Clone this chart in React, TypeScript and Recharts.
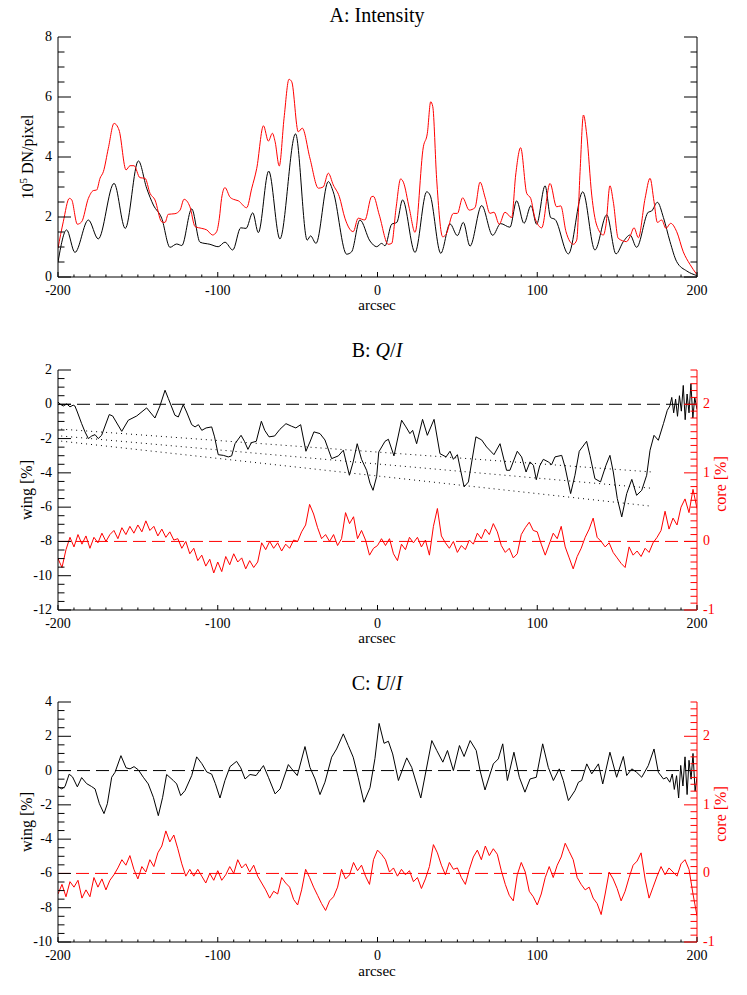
import React from 'react';
import { LineChart, Line, XAxis, YAxis, ReferenceLine } from 'recharts';

const FONT = '"Liberation Serif", "DejaVu Serif", serif';
const RED = '#ff0000';

// ---------- tick positions ----------
const arcTicks = Array.from({ length: 41 }, (_, i) => -200 + i * 10);
const intTicks = Array.from({ length: 17 }, (_, i) => i * 0.5);
const qWingTicks = Array.from({ length: 29 }, (_, i) => -12 + i * 0.5);
const uWingTicks = Array.from({ length: 29 }, (_, i) => -10 + i * 0.5);
const coreTicks = Array.from({ length: 36 }, (_, i) => Math.round((-1 + i * 0.1) * 10) / 10);

// ---------- A: intensity (arcsec, 1e5 DN/pixel) ----------
const intBlack: number[][] = [
  [-200, 0.5], [-194.6, 1.57], [-189.4, 0.82], [-181, 1.9], [-174.8, 1.27], [-164.9, 3.12], [-157.9, 1.62],
  [-149.7, 3.87], [-144.5, 2.96], [-140.3, 2.4], [-135.1, 1.96], [-129.9, 0.99], [-125.7, 1.1], [-122.5, 1.05],
  [-116.3, 2.27], [-111.1, 1.16], [-104.9, 1.09], [-99.7, 1.01], [-95.5, 1.16], [-90.6, 0.9], [-85.6, 1.64],
  [-82.3, 1.62], [-78.1, 2.14], [-74.6, 1.48], [-68.1, 3.53], [-61.1, 1.27], [-51.3, 4.77], [-44, 1.23],
  [-41.9, 1.37], [-38.5, 1.12], [-30.8, 3.18], [-27.7, 2.84], [-19.3, 0.76], [-16.2, 0.84], [-11, 1.9],
  [-4.7, 1.2], [-0.5, 1.01], [2.6, 1.12], [4.7, 1.04], [8.9, 1.76], [12.1, 1.82], [15.7, 2.57], [23.5, 0.82],
  [30.8, 2.84], [32.9, 2.73], [39.6, 0.79], [45.4, 1.77], [50, 1.38], [53.7, 1.82], [57.9, 1.03], [65.2, 2.38],
  [72.1, 1.39], [77.1, 1.78], [82.9, 1.66], [87.1, 2.54], [91.7, 1.79], [96.1, 2.38], [99.6, 1.76], [104.9, 3.04],
  [108.4, 1.98], [111.1, 1.92], [119.5, 0.77], [128.5, 2.84], [136.1, 0.9], [143.5, 2.07], [149.3, 0.77],
  [153.9, 1.18], [158.1, 1.4], [162.2, 0.99], [169.5, 2.16], [171.6, 2.2], [175.2, 2.49], [179, 1.98],
  [183.1, 1.18], [187.3, 0.51], [193.6, 0.2], [199.8, 0.05],
];
const intRed: number[][] = [
  [-200, 0.96], [-196.7, 1.84], [-192.9, 2.62], [-191.5, 2.58], [-187.9, 1.76], [-185.2, 1.84], [-181, 2.62],
  [-177.9, 2.88], [-175.8, 2.9], [-173.7, 3.29], [-171.6, 3.51], [-168.5, 4.29], [-164.9, 5.12], [-161.8, 4.9],
  [-157.4, 3.57], [-154.9, 3.71], [-152.4, 3.71], [-148.7, 3.31], [-145.5, 3.29], [-142.4, 2.79], [-139.3, 2.57],
  [-135.1, 1.84], [-133, 1.82], [-131, 2.09], [-126.8, 2.11], [-123.6, 2.23], [-121.1, 2.59], [-117.4, 2.34],
  [-114.2, 1.68], [-110, 1.62], [-106.9, 1.57], [-103.2, 1.4], [-100.7, 1.51], [-99, 1.96], [-97.6, 2.62],
  [-95.5, 2.98], [-92.3, 2.66], [-90.2, 2.59], [-87.1, 2.54], [-81.9, 2.31], [-78.7, 2.96], [-75.6, 3.62],
  [-71.4, 5.04], [-68.3, 4.53], [-65.8, 4.79], [-64.1, 4.51], [-61.5, 3.7], [-58.5, 5.29], [-55.4, 6.59],
  [-53.7, 6.51], [-49.6, 4.84], [-47.1, 4.96], [-42.3, 3.96], [-37, 2.96], [-34, 3.0], [-30.8, 3.46],
  [-27.7, 3.07], [-23.9, 2.68], [-20.4, 1.96], [-15.2, 1.51], [-12.1, 1.96], [-7.9, 1.9], [-3.7, 2.68],
  [-2.6, 2.69], [1.1, 2.07], [6.7, 1.09], [8.9, 1.12], [11.6, 2.29], [14.5, 3.27], [16.2, 3.16], [19.9, 2.29],
  [23.5, 1.49], [28.7, 4.34], [31.2, 4.79], [33.3, 5.84], [34.6, 5.68], [37, 3.29], [40.8, 1.34], [42.9, 1.42],
  [47.5, 2.12], [50, 2.12], [53.3, 2.64], [57.4, 2.23], [61, 2.31], [64.2, 3.16], [67.3, 2.66], [70.4, 2.12],
  [72.9, 2.16], [76.2, 1.76], [79.8, 2.16], [84, 1.98], [86.5, 3.4], [89.6, 4.31], [93.4, 2.79], [95.9, 2.62],
  [98.6, 1.96], [102.8, 1.64], [108, 3.12], [112.1, 2.34], [114.7, 2.37], [118, 1.51], [122.6, 1.09],
  [124.7, 1.23], [126.8, 3.51], [128.9, 5.4], [131, 4.73], [134.1, 2.73], [137.2, 1.73], [141.4, 1.4],
  [143, 1.73], [145.5, 3.04], [147.6, 2.51], [150.7, 1.29], [155.9, 1.18], [158, 1.34], [160.6, 1.64],
  [163.3, 1.31], [167.5, 2.62], [170.6, 3.29], [173.1, 2.51], [175.2, 1.82], [177.9, 1.9], [180.6, 1.62],
  [183.5, 1.79], [187.3, 1.51], [191.4, 0.84], [195.6, 0.42], [199.8, 0.09],
];

// ---------- B: Q/I ----------
const qWing: number[][] = [
  [-200, 0.13], [-198.5, 0.0], [-196.7, -0.1], [-194.5, 0.02], [-192.5, -0.15], [-190.5, -0.05], [-189.4, -0.1],
  [-187.9, -0.45], [-185.2, -1.13], [-183.1, -1.61], [-181, -2.0], [-178.9, -1.85], [-176.8, -1.77], [-174.8, -2.0],
  [-172.7, -1.81], [-167.9, -0.6], [-165.8, -0.68], [-160.1, -1.58], [-156, -0.93], [-150.7, -0.68], [-144.5, -0.21],
  [-142.4, -0.45], [-139.3, -0.8], [-136.2, -0.1], [-133, 0.82], [-130.9, 0.33], [-126.8, -0.64], [-124.7, -0.74],
  [-121.6, -0.02], [-119.5, -0.45], [-116.3, -1.19], [-114.2, -1.32], [-112.1, -1.19], [-110, -1.52],
  [-107.3, -1.38], [-103.8, -1.32], [-102, -1.9], [-99.7, -2.94], [-96.5, -2.98], [-93.4, -3.07], [-91.3, -3.01],
  [-89.2, -2.3], [-85.4, -1.81], [-83.3, -2.16], [-81.1, -2.63], [-79, -2.24], [-75.9, -2.16], [-72.7, -0.99],
  [-70.6, -1.52], [-67.9, -1.9], [-64.4, -1.85], [-61.1, -1.46], [-57.3, -1.13], [-53.8, -1.28], [-51.1, -1.38],
  [-48.1, -1.19], [-44.8, -2.74], [-42.3, -2.2], [-39.8, -1.61], [-36, -1.71], [-32.9, -2.08], [-28.7, -3.17],
  [-24.5, -3.01], [-21.4, -2.68], [-17.6, -4.14], [-15.2, -3.36], [-12.7, -2.3], [-10, -3.21], [-6.8, -3.85],
  [-4.7, -4.6], [-2.8, -5.02], [-0.5, -4.2], [0.8, -2.78], [4.7, -2.16], [6.8, -2.04], [10.3, -3.01],
  [15.1, -0.93], [17.8, -1.32], [20.3, -1.71], [22, -1.52], [24.5, -2.3], [28.2, -0.88], [31.2, -1.81],
  [35.4, -0.88], [39.1, -2.88], [42.9, -3.07], [45.4, -2.74], [47.5, -3.21], [50, -2.94], [54.2, -4.82],
  [56.9, -4.53], [61.6, -1.9], [65.2, -2.08], [68.3, -2.49], [72.9, -2.94], [76.7, -2.3], [80.8, -3.85],
  [82.9, -3.85], [87.5, -2.74], [90.2, -3.07], [93, -3.95], [95.5, -3.36], [97.6, -3.56], [99.4, -4.4],
  [101.5, -3.6], [103.8, -3.21], [106.9, -3.36], [109, -3.52], [111.1, -3.07], [115.3, -2.98], [117.4, -3.66],
  [120.9, -5.21], [123.6, -4.14], [126.3, -2.74], [130.9, -2.16], [133, -2.98], [136.1, -4.34], [139.6, -4.53],
  [143, -3.56], [145.5, -2.98], [147.6, -3.95], [150.1, -5.5], [152.9, -6.57], [156, -5.21], [159.2, -4.38],
  [162.2, -5.31], [165.4, -5.02], [168.5, -4.14], [170.6, -2.68], [173.1, -1.81], [175.8, -2.1], [179, -1.13],
  [181.4, -0.35], [183, -0.1], [184.2, 0.4], [185.4, -0.5], [186.6, 0.3], [187.8, -0.7], [189, 0.5],
  [190.2, -0.4], [191.4, 1.1], [192.6, -0.9], [193.8, 0.6], [195, -0.5], [196.2, 1.2], [197.4, -0.8],
  [198.6, 0.4], [200, -0.3],
];
// dotted fit lines, [x, wing %] end points
const qFitA: number[][] = [[-198, -1.45], [172, -3.95]];
const qFitB: number[][] = [[-198, -1.85], [172, -4.9]];
const qFitC: number[][] = [[-198, -2.15], [172, -5.95]];

// core series sampled every 2.5 arcsec
const coreX = Array.from({ length: 161 }, (_, i) => -200 + i * 2.5);
const qCore = [
  -0.25, -0.38, -0.12, 0.06, -0.08, 0.1, -0.04, 0.08, -0.1, 0.06,
  -0.02, 0.12, 0.0, 0.1, 0.16, 0.04, 0.2, 0.1, 0.22, 0.12,
  0.24, 0.14, 0.3, 0.16, 0.22, 0.08, 0.18, 0.06, 0.14, 0.02,
  0.04, -0.1, 0.0, -0.18, -0.1, -0.28, -0.2, -0.36, -0.26, -0.46,
  -0.3, -0.44, -0.22, -0.34, -0.18, -0.3, -0.24, -0.4, -0.28, -0.38,
  -0.3, -0.02, -0.12, 0.0, -0.1, -0.02, -0.14, -0.04, -0.1, 0.02,
  0.0, 0.14, 0.24, 0.54, 0.4, 0.2, 0.04, 0.1, 0.0, 0.1,
  -0.06, 0.04, 0.42, 0.26, 0.36, 0.04, 0.16, 0.02, -0.2, -0.1,
  -0.06, 0.04, -0.06, 0.04, -0.18, -0.28, -0.04, -0.12, 0.06, -0.02,
  0.06, -0.08, 0.02, -0.2, 0.22, 0.48, 0.08, -0.02, -0.1, 0.0,
  -0.16, -0.06, -0.12, 0.02, -0.04, 0.12, 0.04, 0.18, 0.1, 0.26,
  0.14, -0.06, -0.16, -0.1, -0.24, -0.18, 0.1, 0.2, 0.28, 0.16,
  0.14, -0.04, -0.2, -0.04, 0.12, 0.04, 0.22, -0.08, -0.24, -0.4,
  -0.22, -0.1, 0.06, 0.18, 0.34, 0.06, 0.0, -0.08, -0.02, -0.16,
  -0.24, -0.32, -0.38, -0.08, -0.2, -0.14, -0.22, -0.1, -0.16, -0.02,
  0.06, 0.16, 0.44, 0.18, 0.34, 0.24, 0.5, 0.62, 0.42, 0.76, 0.48,
];

// ---------- C: U/I ----------
const uWing: number[][] = [
  [-200, -0.93], [-197.7, -1.07], [-195.6, -0.93], [-193, -0.21], [-190.9, -0.37], [-187.9, -0.95],
  [-185.2, -0.41], [-182.1, -0.76], [-179, -0.93], [-176.8, -1.07], [-174.1, -1.93], [-171.2, -2.51],
  [-169.1, -1.93], [-166.4, -0.39], [-164.3, -0.1], [-160.6, 0.87], [-157.4, 0.16], [-154.9, 0.1],
  [-152.4, 0.23], [-149.7, 0.04], [-146.6, -0.39], [-143.5, -0.78], [-140.3, -1.56], [-137.2, -2.63],
  [-134.5, -1.56], [-132, -0.23], [-127.8, -0.58], [-125.7, -0.78], [-123.2, -1.46], [-120.5, -1.17],
  [-116.3, -0.29], [-113.2, 0.8], [-110, 0.41], [-106.9, -0.08], [-103.8, -0.21], [-101.5, -0.76],
  [-98.6, -1.6], [-95.5, -0.58], [-92.3, 0.23], [-88.2, 0.54], [-85.6, 0.16], [-82.9, -0.49], [-79.8, -0.23],
  [-76, -0.29], [-71.4, 0.29], [-68.3, -0.39], [-64.1, -1.36], [-61, -1.07], [-55.8, 0.35], [-53.7, 0.1],
  [-50.2, -0.29], [-45.4, 1.4], [-42.3, 0.19], [-39.1, -0.49], [-36, -1.4], [-32.9, -0.68], [-28.7, 0.78],
  [-25.6, 1.26], [-21.4, 2.14], [-18.3, 1.46], [-15.2, 0.78], [-12.1, -0.39], [-8.5, -1.85], [-4.7, -1.0],
  [-1.6, 0.7], [1.0, 2.75], [4.1, 1.59], [6.8, 1.71], [9.5, 0.97], [13.1, -0.58], [18.3, 0.74], [21.4, 0.19],
  [27.1, -1.6], [34, 1.75], [37.1, 1.17], [40.9, 0.49], [43.8, 1.17], [47.5, 0.0], [51.3, 1.46], [54.2, 0.82],
  [58, 1.75], [61.8, 1.17], [64.2, 0.0], [67.3, -1.13], [72.5, 0.39], [75.6, 0.68], [78.4, 1.56], [81.3, -0.58],
  [85.4, 1.07], [88.8, -0.39], [92.3, -1.26], [95.5, -0.49], [99.4, -0.39], [103.4, 1.56], [106.9, 0.19],
  [110.1, -0.58], [113.8, 0.1], [116.3, -0.58], [119.5, -1.75], [123.6, -1.17], [125.8, -0.68], [127.8, -0.58],
  [131, 0.39], [134.1, -0.19], [138.3, 0.39], [141, -0.78], [145.5, 1.07], [149.7, -0.39], [153.9, 0.82],
  [156, -0.29], [159.2, 0.1], [162.2, -0.1], [165.4, -0.39], [169.5, 0.29], [173.1, 1.26], [175.8, -0.1],
  [179, -0.49], [181, -0.4], [183, -0.68], [184.5, -0.2], [185.8, -1.1], [187.2, -0.3], [188.5, -1.6],
  [189.8, 0.3], [191.2, -0.9], [192.5, 0.8], [193.8, -1.4], [195, 0.6], [196.3, -0.5], [197.5, 1.0],
  [198.8, -1.2], [200, -0.4],
];
const uCore = [
  -0.3, -0.16, -0.34, -0.12, -0.2, -0.1, -0.36, -0.24, -0.34, -0.06,
  -0.2, -0.08, -0.24, -0.1, -0.02, 0.08, 0.2, 0.12, 0.26, 0.06,
  -0.08, 0.1, 0.02, 0.2, 0.1, 0.3, 0.4, 0.62, 0.46, 0.56,
  0.36, 0.14, -0.04, 0.06, -0.04, 0.06, -0.04, -0.14, 0.0, -0.1,
  0.04, -0.1, -0.02, 0.1, 0.0, 0.2, 0.08, 0.14, 0.02, 0.12,
  -0.04, -0.14, -0.24, -0.36, -0.26, -0.3, -0.06, -0.14, -0.2, -0.38,
  -0.46, -0.24, 0.06, -0.06, -0.2, -0.32, -0.44, -0.54, -0.4, -0.34,
  -0.2, 0.06, -0.08, -0.02, 0.16, 0.04, 0.12, -0.04, -0.16, 0.2,
  0.34, 0.28, 0.2, 0.02, 0.08, -0.04, 0.06, -0.02, 0.04, -0.12,
  -0.06, -0.22, -0.08, 0.1, 0.42, 0.3, 0.12, -0.02, 0.16, 0.06,
  0.08, -0.06, -0.16, 0.06, 0.24, 0.34, 0.2, 0.4, 0.26, 0.36,
  0.28, 0.04, -0.16, -0.32, -0.4, -0.02, 0.16, 0.02, -0.26, -0.34,
  -0.46, -0.3, -0.06, 0.1, -0.06, 0.12, 0.24, 0.44, 0.32, 0.2,
  -0.06, -0.16, -0.24, -0.2, -0.36, -0.44, -0.6, -0.3, 0.02, -0.08,
  -0.22, -0.4, -0.26, -0.06, 0.12, 0.18, 0.3, -0.08, -0.36, -0.2,
  -0.04, 0.1, -0.02, 0.08, 0.02, -0.04, 0.14, 0.2, 0.06, -0.3, -0.62,
];

const rows = (pts: number[][]) => pts.map(([x, v]) => ({ x, v }));
const coreRows = (vals: number[]) => vals.map((v, i) => ({ x: coreX[i], v }));

// ---------- ticks (IDL style, pointing inward) ----------
const fmt = (v: number) => String(Math.round(v));

const makeTick = (side: string, step: number, len: number, color: string, labels: boolean) => (props: any) => {
  const { x, y, payload } = props;
  const v = payload.value;
  const major = Math.abs(v / step - Math.round(v / step)) < 1e-6;
  const l = major ? len : len / 2;
  const txt = major && labels;
  const t = { fill: color, fontSize: 14, fontFamily: FONT };
  if (side === 'bottom') {
    return (
      <g>
        <line x1={x} x2={x} y1={y} y2={y - l} stroke={color} />
        {txt && <text x={x} y={y + 18} textAnchor="middle" {...t}>{fmt(v)}</text>}
      </g>
    );
  }
  if (side === 'top') {
    return <line x1={x} x2={x} y1={y} y2={y + l} stroke={color} />;
  }
  if (side === 'left') {
    return (
      <g>
        <line x1={x} x2={x + l} y1={y} y2={y} stroke={color} />
        {txt && <text x={x - 6} y={y + 4} textAnchor="end" {...t}>{fmt(v)}</text>}
      </g>
    );
  }
  return (
    <g>
      <line x1={x} x2={x - l} y1={y} y2={y} stroke={color} />
      {txt && <text x={x + 6} y={y + 4} textAnchor="start" {...t}>{fmt(v)}</text>}
    </g>
  );
};

const bottomTick = makeTick('bottom', 100, 5, '#000', true);
const topTick = makeTick('top', 100, 5, '#000', false);
const leftTick = makeTick('left', 2, 13, '#000', true);
const rightTickA = makeTick('right', 2, 13, '#000', false);
const coreTick = makeTick('right', 1, 13, RED, true);

const axisCommon = {
  type: 'number' as const,
  interval: 0 as const,
  tickSize: 0,
  tickMargin: 0,
  tickLine: false,
  allowDataOverflow: true,
};

const arcAxes = (bottomH: number) => [
  <XAxis key="b" xAxisId="b" dataKey="x" domain={[-200, 200]} ticks={arcTicks} tick={bottomTick}
    height={bottomH} axisLine={{ stroke: '#000' }} {...axisCommon} />,
  <XAxis key="t" xAxisId="t" orientation="top" dataKey="x" domain={[-200, 200]} ticks={arcTicks} tick={topTick}
    height={0} axisLine={{ stroke: '#000' }} {...axisCommon} />,
];

const lineProps = { dataKey: 'v', dot: false, isAnimationActive: false, strokeWidth: 1, xAxisId: 'b' };

const Label = ({ x, y, rotate, color, size, children }: any) => (
  <div
    style={{
      position: 'absolute',
      left: x,
      top: y,
      transform: `translate(-50%, -50%)${rotate ? ' rotate(-90deg)' : ''}`,
      whiteSpace: 'nowrap',
      fontFamily: FONT,
      fontSize: size || 15,
      color: color || '#000',
      lineHeight: 1,
    }}
  >
    {children}
  </div>
);

export default function App() {
  return (
    <div style={{ position: 'absolute', left: 0, top: 0, width: 747, height: 995, background: '#fff' }}>
      {/* A */}
      <div style={{ position: 'absolute', left: 0, top: 0 }}>
        <LineChart width={747} height={320} margin={{ top: 37, right: 0, bottom: 0, left: 0 }}>
          {arcAxes(43)}
          <YAxis yAxisId="l" domain={[0, 8]} ticks={intTicks} tick={leftTick} width={58}
            axisLine={{ stroke: '#000' }} {...axisCommon} />
          <YAxis yAxisId="r" orientation="right" domain={[0, 8]} ticks={intTicks} tick={rightTickA} width={50}
            axisLine={{ stroke: '#000' }} {...axisCommon} />
          <Line {...lineProps} yAxisId="l" data={rows(intBlack)} type="monotone" stroke="#000" />
          <Line {...lineProps} yAxisId="l" data={rows(intRed)} type="monotone" stroke={RED} />
        </LineChart>
      </div>

      {/* B */}
      <div style={{ position: 'absolute', left: 0, top: 330 }}>
        <LineChart width={747} height={330} margin={{ top: 40, right: 0, bottom: 0, left: 0 }}>
          {arcAxes(50)}
          <YAxis yAxisId="l" domain={[-12, 2]} ticks={qWingTicks} tick={leftTick} width={58}
            axisLine={{ stroke: '#000' }} {...axisCommon} />
          <YAxis yAxisId="r" orientation="right" domain={[-1, 2.5]} ticks={coreTicks} tick={coreTick} width={50}
            axisLine={{ stroke: RED }} {...axisCommon} />
          <ReferenceLine xAxisId="b" yAxisId="l" y={0} stroke="#000" strokeDasharray="13 6" />
          <ReferenceLine xAxisId="b" yAxisId="r" y={0} stroke={RED} strokeDasharray="13 6" />
          <Line {...lineProps} yAxisId="l" data={rows(qFitA)} type="linear" stroke="#000" strokeDasharray="1 4" />
          <Line {...lineProps} yAxisId="l" data={rows(qFitB)} type="linear" stroke="#000" strokeDasharray="1 4" />
          <Line {...lineProps} yAxisId="l" data={rows(qFitC)} type="linear" stroke="#000" strokeDasharray="1 4" />
          <Line {...lineProps} yAxisId="l" data={rows(qWing)} type="linear" stroke="#000" />
          <Line {...lineProps} yAxisId="r" data={coreRows(qCore)} type="linear" stroke={RED} />
        </LineChart>
      </div>

      {/* C */}
      <div style={{ position: 'absolute', left: 0, top: 665 }}>
        <LineChart width={747} height={330} margin={{ top: 37, right: 0, bottom: 0, left: 0 }}>
          {arcAxes(53)}
          <YAxis yAxisId="l" domain={[-10, 4]} ticks={uWingTicks} tick={leftTick} width={58}
            axisLine={{ stroke: '#000' }} {...axisCommon} />
          <YAxis yAxisId="r" orientation="right" domain={[-1, 2.5]} ticks={coreTicks} tick={coreTick} width={50}
            axisLine={{ stroke: RED }} {...axisCommon} />
          <ReferenceLine xAxisId="b" yAxisId="l" y={0} stroke="#000" strokeDasharray="13 6" />
          <ReferenceLine xAxisId="b" yAxisId="r" y={0} stroke={RED} strokeDasharray="13 6" />
          <Line {...lineProps} yAxisId="l" data={rows(uWing)} type="linear" stroke="#000" />
          <Line {...lineProps} yAxisId="r" data={coreRows(uCore)} type="linear" stroke={RED} />
        </LineChart>
      </div>

      {/* titles and axis titles */}
      <Label x={377} y={15} size={20}>A: Intensity</Label>
      <Label x={377} y={350} size={20}>B: <i>Q</i>/<i>I</i></Label>
      <Label x={377} y={683} size={20}>C: <i>U</i>/<i>I</i></Label>
      <Label x={377} y={305}>arcsec</Label>
      <Label x={377} y={638}>arcsec</Label>
      <Label x={377} y={971}>arcsec</Label>
      <Label x={27} y={157} rotate size={16}>10<sup style={{ fontSize: 11 }}>5</sup> DN/pixel</Label>
      <Label x={27} y={490} rotate size={16}>wing [%]</Label>
      <Label x={27} y={822} rotate size={16}>wing [%]</Label>
      <Label x={721} y={484} rotate size={16} color={RED}>core [%]</Label>
      <Label x={721} y={814} rotate size={16} color={RED}>core [%]</Label>
    </div>
  );
}
